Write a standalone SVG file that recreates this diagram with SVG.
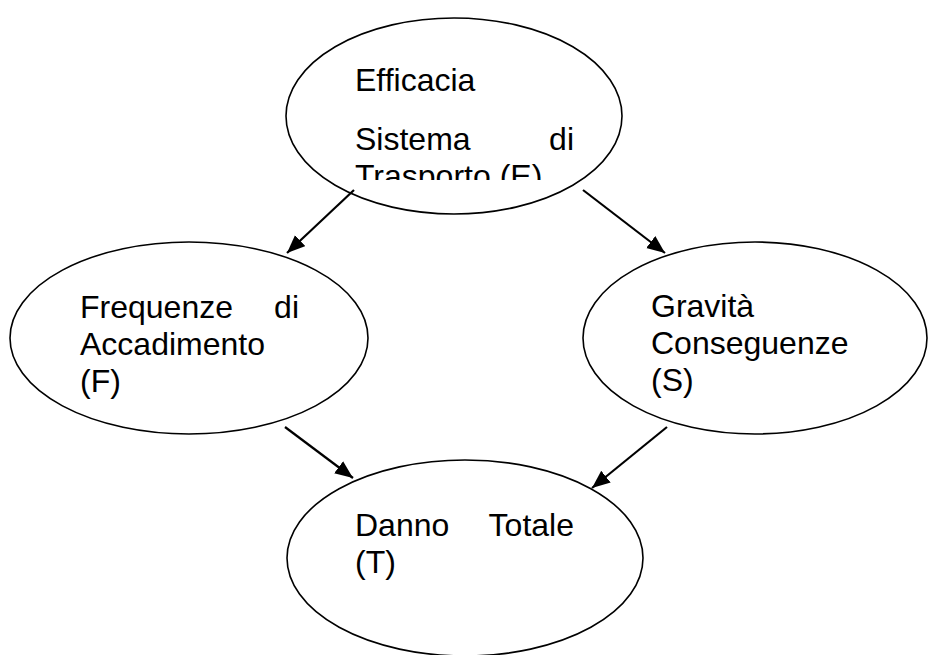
<svg xmlns="http://www.w3.org/2000/svg" width="928" height="655" viewBox="0 0 928 655">
<style>
.node ellipse{fill:#fff;stroke:#000;stroke-width:1.6}
.node text{font-family:"Liberation Sans",Arial,sans-serif;font-size:32px;fill:#000}
.edges line{stroke:#000;stroke-width:2.2}
</style>
<defs>
<marker id="ah" markerUnits="userSpaceOnUse" markerWidth="20" markerHeight="16" refX="18" refY="7.5" orient="auto">
<path d="M0,0 L18,7.5 L0,15 z" fill="#000"/>
</marker>
<clipPath id="clipTop"><rect x="290" y="20" width="330" height="160"/></clipPath>
</defs>
<rect width="928" height="655" fill="#fff"/>
<g id="node-efficacia" class="node">
<ellipse cx="454" cy="116" rx="168" ry="98"/>
<g clip-path="url(#clipTop)">
<text x="355" y="91">Efficacia</text>
<text x="355" y="150">Sistema</text>
<text x="574" y="150" text-anchor="end">di</text>
<text x="355" y="187">Trasporto (E)</text>
</g>
</g>
<g id="node-frequenze" class="node">
<ellipse cx="189" cy="338" rx="179" ry="96"/>
<text x="80" y="318">Frequenze</text>
<text x="299" y="318" text-anchor="end">di</text>
<text x="80" y="355">Accadimento</text>
<text x="80" y="392">(F)</text>
</g>
<g id="node-gravita" class="node">
<ellipse cx="755" cy="338" rx="172" ry="96"/>
<text x="651" y="317">Gravità</text>
<text x="651" y="354">Conseguenze</text>
<text x="651" y="391">(S)</text>
</g>
<g id="node-danno" class="node">
<ellipse cx="465" cy="558" rx="178" ry="98"/>
<text x="355" y="536">Danno</text>
<text x="574" y="536" text-anchor="end">Totale</text>
<text x="355" y="573">(T)</text>
</g>
<g id="connectors" class="edges">
<line x1="354" y1="190" x2="287" y2="253" marker-end="url(#ah)"/>
<line x1="583" y1="190" x2="665" y2="253" marker-end="url(#ah)"/>
<line x1="285" y1="427" x2="353" y2="478" marker-end="url(#ah)"/>
<line x1="667" y1="427" x2="592" y2="488" marker-end="url(#ah)"/>
</g>
</svg>
